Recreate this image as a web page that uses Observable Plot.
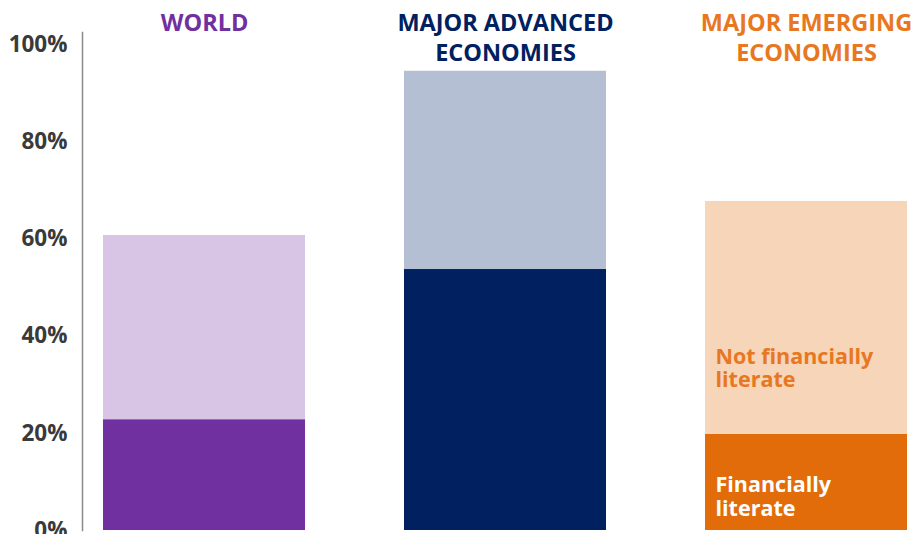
<!DOCTYPE html>
<html>
<head>
<meta charset="utf-8">
<script src="https://cdn.jsdelivr.net/npm/d3@7"></script>
<script src="https://cdn.jsdelivr.net/npm/@observablehq/plot@0.6"></script>
<style>
  html, body { margin: 0; padding: 0; background: #fff; }
  svg { display: block; }
</style>
</head>
<body>
<div id="chart"></div>
<script>
const regions = ["WORLD", "MAJOR ADVANCED\nECONOMIES", "MAJOR EMERGING\nECONOMIES"];
const literate = [22.8, 53.7, 19.8];
const notLiterate = [37.9, 40.8, 47.9];
const darkColors = ["#7030A0", "#00205F", "#E36C0A"];
const lightColors = ["#D8C5E6", "#B4BFD3", "#F6D5B8"];
const titleColors = ["#7030A0", "#00205F", "#E87722"];
const yTicks = [0, 20, 40, 60, 80, 100];

const rows = [];
regions.forEach((r, i) => {
  rows.push({region: r, status: "Financially literate", value: literate[i], color: darkColors[i]});
  rows.push({region: r, status: "Not financially literate", value: notLiterate[i], color: lightColors[i]});
});
const emerging = regions[2];
const font = "Open Sans, Roboto, sans-serif";

const chart = Plot.plot({
  width: 912,
  height: 534,
  marginLeft: 82,
  marginRight: 5,
  marginTop: 32,
  marginBottom: 4,
  style: {fontFamily: font, background: "#fff"},
  x: {domain: regions, range: [103, 907], paddingInner: 0.33, paddingOuter: 0, axis: null},
  y: {domain: [0, 100], range: [530, 44], axis: null},
  marks: [
    Plot.barY(rows, Plot.stackY({x: "region", y: "value", fill: "color", order: null})),
    Plot.frame({anchor: "left", stroke: "#8a8a8a", strokeWidth: 1.5}),
    Plot.axisY({ticks: yTicks, tickSize: 0, tickPadding: 15, tickFormat: d => d + "%",
      fontSize: 22.5, fontWeight: "bold", fill: "#3a3a3a", label: null}),
    Plot.text(regions, {x: d => d, text: d => d, fill: (d, i) => titleColors[i],
      frameAnchor: "top", lineAnchor: "top", dy: -23, fontSize: 23.5, fontWeight: "bold",
      lineHeight: 1.28}),
    Plot.text([{region: emerging, y: literate[2], t: "Not financially\nliterate"}], {
      x: "region", y: "y", text: "t", textAnchor: "start", lineAnchor: "bottom",
      dx: -91, dy: -47, fill: "#E87722", fontSize: 21.5, fontWeight: "bold", lineHeight: 1.1}),
    Plot.text([{region: emerging, y: 0, t: "Financially\nliterate"}], {
      x: "region", y: "y", text: "t", textAnchor: "start", lineAnchor: "bottom",
      dx: -91, dy: -15, fill: "#fff", fontSize: 21.5, fontWeight: "bold", lineHeight: 1.1})
  ]
});
document.getElementById("chart").appendChild(chart);
</script>
</body>
</html>
